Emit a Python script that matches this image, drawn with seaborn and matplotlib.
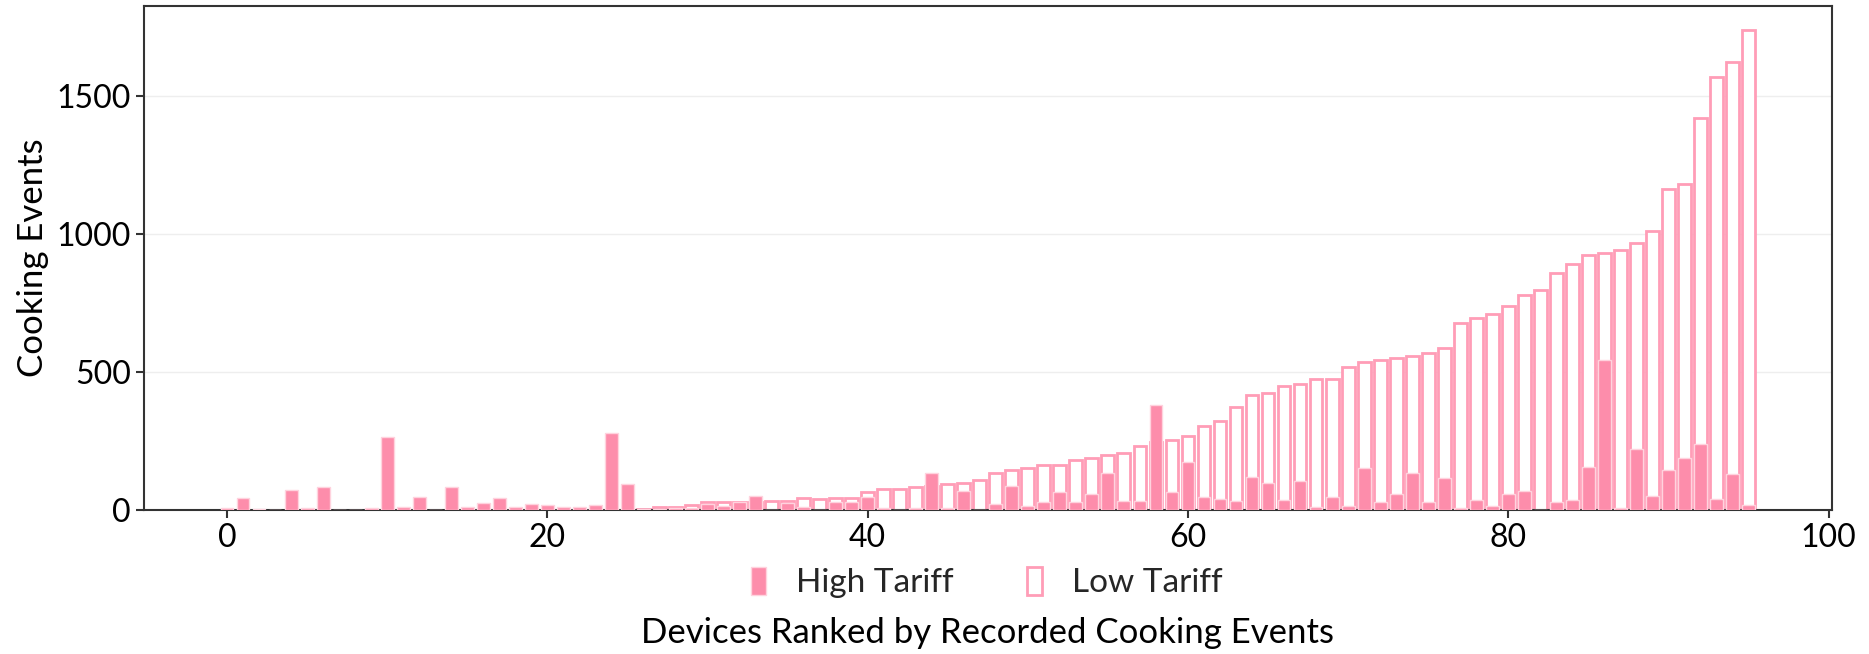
import matplotlib
matplotlib.use("Agg")
import matplotlib.pyplot as plt
import seaborn as sns
import pandas as pd
from matplotlib.patches import Patch

# ---- data ----
devices = list(range(96))
high_tariff = [8, 45, 4, 1, 72, 7, 82, 1, 1, 7,
               266, 11, 48, 1, 82, 13, 27, 45, 13, 23,
               17, 10, 12, 17, 278, 94, 3, 4, 8, 7,
               22, 16, 28, 50, 0, 25, 11, 0, 28, 28,
               47, 7, 0, 7, 136, 7, 71, 0, 23, 86,
               16, 31, 64, 30, 58, 136, 34, 34, 382, 64,
               174, 48, 40, 34, 120, 97, 37, 106, 10, 46,
               16, 151, 28, 58, 133, 30, 118, 6, 36, 16,
               60, 70, 0, 28, 36, 157, 543, 6, 223, 52,
               145, 190, 241, 40, 129, 18]
low_tariff = [0] * 26 + [
               4, 10, 10, 17,
               28, 28, 28, 30, 34, 34, 43, 41, 43, 43,
               66, 76, 76, 83, 86, 94, 100, 110, 134, 144,
               152, 162, 163, 180, 189, 198, 206, 232, 248, 254,
               270, 304, 322, 373, 416, 423, 451, 458, 475, 475,
               517, 535, 542, 550, 558, 568, 586, 679, 694, 711,
               739, 780, 797, 857, 891, 924, 930, 942, 966, 1011,
               1162, 1180, 1419, 1570, 1622, 1739]
series_labels = ["High Tariff", "Low Tariff"]
x_label = "Devices Ranked by Recorded Cooking Events"
y_label = "Cooking Events"

df = pd.DataFrame({"device": devices, "high": high_tariff, "low": low_tariff})

PINK = "#FD8DAB"
PINK_EDGE = "#FF9DB7"
LIGHT = "#FFD3DE"

sns.set_theme(style="ticks")
plt.rcParams["font.family"] = ["Lato", "DejaVu Sans"]

fig, ax = plt.subplots(figsize=(18.69, 6.54), dpi=100)
fig.subplots_adjust(left=0.077, right=0.980, top=0.991, bottom=0.220)

sns.barplot(data=df, x="device", y="low", native_scale=True, color="white",
            edgecolor=PINK_EDGE, linewidth=2, errorbar=None, saturation=1,
            ax=ax, zorder=2)
sns.barplot(data=df, x="device", y="high", native_scale=True, color=PINK,
            edgecolor=LIGHT, linewidth=1, errorbar=None, saturation=1,
            ax=ax, zorder=3)

ax.set_xlim(-5.19, 100.19)
ax.set_ylim(0, 1826)
ax.set_xticks([0, 20, 40, 60, 80, 100])
ax.set_yticks([0, 500, 1000, 1500])
ax.yaxis.grid(True, color="#EEEEEE", lw=1)
ax.set_axisbelow(True)

for s in ax.spines.values():
    s.set_linewidth(1.5)
    s.set_color("#333333")
ax.tick_params(labelsize=23, length=6, width=1.5, color="#333333", labelcolor="black")

ax.set_ylabel(y_label, fontsize=25, color="black")
ax.set_xlabel(x_label, fontsize=25, color="black")
ax.yaxis.set_label_coords(-0.056, 0.5)
ax.xaxis.set_label_coords(0.5, -0.212)

handles = [Patch(facecolor=PINK, edgecolor=LIGHT, lw=1, label=series_labels[0]),
           Patch(facecolor="white", edgecolor=PINK_EDGE, lw=2, label=series_labels[1])]
fig.legend(handles=handles, loc="center", bbox_to_anchor=(0.528, 0.109), ncol=2,
           frameon=False, fontsize=24, handlelength=0.45, handleheight=0.9,
           handletextpad=0.9, columnspacing=2.2)

fig.savefig("out.png", dpi=100)
